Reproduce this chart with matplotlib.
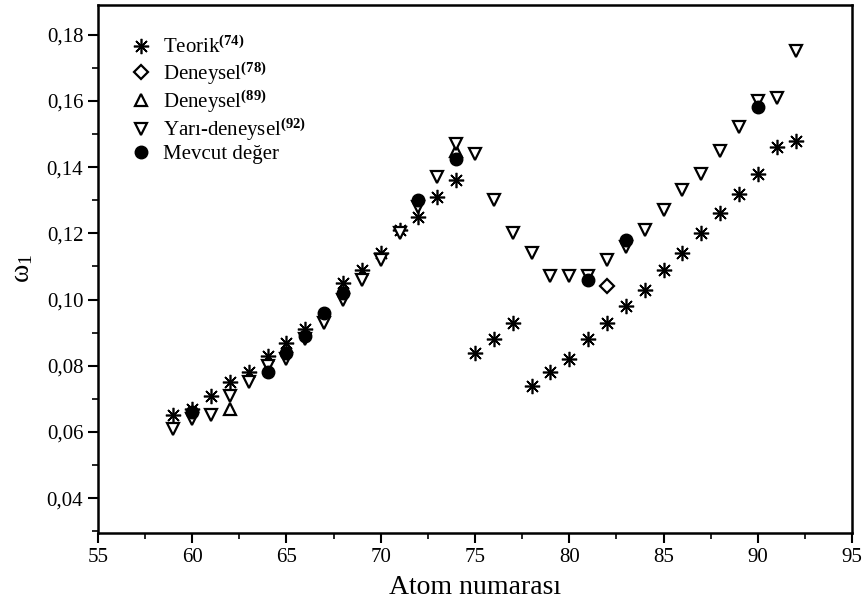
import matplotlib
matplotlib.use("Agg")
import matplotlib.pyplot as plt
from matplotlib.ticker import MultipleLocator, FuncFormatter

plt.rcParams['font.family'] = ['Liberation Serif', 'DejaVu Serif']
plt.rcParams['mathtext.fontset'] = 'custom'
plt.rcParams['mathtext.rm'] = 'Liberation Serif'
plt.rcParams['mathtext.it'] = 'Liberation Serif:italic'
plt.rcParams['mathtext.bf'] = 'Liberation Serif:bold'
plt.rcParams['mathtext.default'] = 'regular'

# Teorik(74)
teorik_z = [59, 60, 61, 62, 63, 64, 65, 66, 68, 69, 70, 71, 72, 73, 74,
            75, 76, 77, 78, 79, 80, 81, 82, 83, 84, 85, 86, 87, 88, 89, 90, 91, 92]
teorik_w = [0.065, 0.067, 0.071, 0.075, 0.078, 0.083, 0.087, 0.091, 0.105, 0.109, 0.114,
            0.121, 0.125, 0.131, 0.136, 0.084, 0.088, 0.093, 0.074, 0.078, 0.082, 0.088,
            0.093, 0.098, 0.103, 0.109, 0.114, 0.120, 0.126, 0.132, 0.138, 0.146, 0.148]

# Deneysel(78)
den78_z = [82]
den78_w = [0.104]

# Deneysel(89)
den89_z = [62, 74]
den89_w = [0.067, 0.145]

# Yarı-deneysel(92)
yari_z = [59, 60, 61, 62, 63, 64, 65, 66, 67, 68, 69, 70, 71, 72, 73, 74, 75, 76, 77,
          78, 79, 80, 81, 82, 83, 84, 85, 86, 87, 88, 89, 90, 91, 92]
yari_w = [0.061, 0.064, 0.065, 0.071, 0.075, 0.080, 0.082, 0.088, 0.093, 0.100, 0.106,
          0.112, 0.120, 0.128, 0.137, 0.147, 0.144, 0.130, 0.120, 0.114, 0.107, 0.107,
          0.107, 0.112, 0.116, 0.121, 0.127, 0.133, 0.138, 0.145, 0.152, 0.160, 0.161, 0.175]

# Mevcut değer
mevcut_z = [60, 64, 65, 66, 67, 68, 72, 74, 81, 83, 90]
mevcut_w = [0.066, 0.078, 0.084, 0.089, 0.096, 0.102, 0.130, 0.1425, 0.106, 0.118, 0.158]

labels = [r'Teorik$^{\mathbf{(74)}}$', r'Deneysel$^{\mathbf{(78)}}$',
          r'Deneysel$^{\mathbf{(89)}}$', r'Yarı-deneysel$^{\mathbf{(92)}}$', 'Mevcut değer']

fig = plt.figure(figsize=(8.66, 6.07), dpi=100)
ax = fig.add_axes([0.113, 0.122, 0.871, 0.870])

ax.plot(teorik_z, teorik_w, linestyle='none', marker=(8, 2, 0), ms=11, mew=1.2,
        color='black', label=labels[0], zorder=2)
ax.plot(den78_z, den78_w, linestyle='none', marker='D', ms=7, mew=1.6,
        mfc='white', mec='black', label=labels[1], zorder=3)
ax.plot(den89_z, den89_w, linestyle='none', marker='^', ms=9, mew=1.6,
        mfc='white', mec='black', label=labels[2], zorder=3)
ax.plot(yari_z, yari_w, linestyle='none', marker='v', ms=9, mew=1.6,
        mfc='white', mec='black', label=labels[3], zorder=4)
ax.plot(mevcut_z, mevcut_w, linestyle='none', marker='o', ms=9, mew=1,
        mfc='black', mec='black', label=labels[4], zorder=5)

ax.set_xlim(55, 95)
ax.set_ylim(0.0295, 0.189)
ax.xaxis.set_major_locator(MultipleLocator(5))
ax.xaxis.set_minor_locator(MultipleLocator(2.5))
ax.yaxis.set_major_locator(MultipleLocator(0.02))
ax.yaxis.set_minor_locator(MultipleLocator(0.01))
ax.yaxis.set_major_formatter(FuncFormatter(lambda v, p: f'{v:.2f}'.replace('.', ',')))

ax.tick_params(which='major', direction='out', length=7, width=1.5, labelsize=15)
ax.tick_params(which='minor', direction='out', length=4, width=1.2)
for s in ax.spines.values():
    s.set_linewidth(1.8)

ax.set_xlabel('Atom numarası', fontsize=20, labelpad=6)
ax.set_ylabel('ω$_1$', fontsize=20, labelpad=8)

ax.legend(loc='upper left', bbox_to_anchor=(0.03, 0.955), frameon=False,
          fontsize=15, handletextpad=0.45, labelspacing=0.08, borderaxespad=0.0,
          handlelength=1.2)

fig.savefig('out.png', dpi=100)
